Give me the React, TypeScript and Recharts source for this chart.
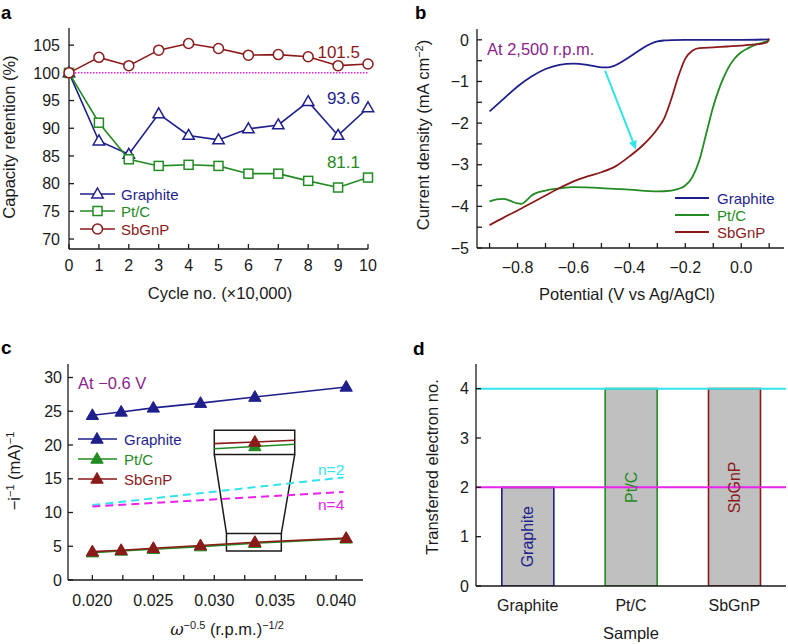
import React from "react";
import {
  LineChart,
  BarChart,
  Line,
  Bar,
  Cell,
  LabelList,
  XAxis,
  YAxis,
  ReferenceLine,
  ReferenceArea,
} from "recharts";

const FONT = '"Liberation Sans", Arial, Helvetica, sans-serif';
const INK = "#1a1a1a";
const NAVY = "#1f1f8c";
const GREEN = "#228b22";
const RED = "#8b1a1a";
const PURPLE = "#8b248b";
const MAGENTA = "#ea22ea";
const CYAN = "#33e3ea";
const BAR_FILL = "#c0c0c0";

// a: capacity retention vs cycle number
const cycles = [0, 1, 2, 3, 4, 5, 6, 7, 8, 9, 10];
const retTicks = [70, 75, 80, 85, 90, 95, 100, 105];
const retGraphite = [100, 87.7, 85.3, 92.6, 88.7, 87.9, 89.9, 90.6, 94.8, 88.7, 93.7];
const retPtC = [100, 91.0, 84.4, 83.2, 83.4, 83.2, 81.8, 81.8, 80.5, 79.3, 81.1];
const retSbGnP = [100, 102.8, 101.3, 104.1, 105.3, 104.4, 103.2, 103.3, 102.9, 101.3, 101.6];

// b: LSV curves at 2,500 r.p.m.
const potTicks = [-0.9, -0.8, -0.7, -0.6, -0.5, -0.4, -0.3, -0.2, -0.1, 0, 0.1];
const jTicks = [-5, -4.5, -4, -3.5, -3, -2.5, -2, -1.5, -1, -0.5, 0];
const potGraphite = [-0.9, -0.85, -0.8, -0.75, -0.7, -0.65, -0.6, -0.55, -0.5, -0.475, -0.45, -0.425, -0.4, -0.375, -0.35, -0.325, -0.3, -0.275, -0.25, -0.2, -0.1, 0, 0.1];
const jGraphite = [-1.72, -1.42, -1.12, -0.88, -0.7, -0.6, -0.57, -0.6, -0.66, -0.66, -0.61, -0.52, -0.41, -0.3, -0.19, -0.1, -0.04, -0.015, -0.005, 0, 0, 0, 0.01];
const potPtC = [-0.9, -0.875, -0.85, -0.825, -0.8, -0.785, -0.77, -0.75, -0.725, -0.7, -0.65, -0.6, -0.5, -0.4, -0.3, -0.25, -0.225, -0.2, -0.175, -0.15, -0.125, -0.1, -0.075, -0.05, -0.025, 0, 0.025, 0.05, 0.075, 0.1];
const jPtC = [-3.88, -3.83, -3.82, -3.87, -3.93, -3.94, -3.87, -3.74, -3.66, -3.62, -3.57, -3.54, -3.56, -3.6, -3.64, -3.62, -3.58, -3.5, -3.3, -2.9, -2.25, -1.6, -1.1, -0.72, -0.46, -0.3, -0.2, -0.12, -0.07, -0.02];
const potSbGnP = [-0.9, -0.85, -0.8, -0.75, -0.7, -0.65, -0.6, -0.55, -0.5, -0.45, -0.4, -0.35, -0.3, -0.275, -0.25, -0.225, -0.2, -0.175, -0.15, -0.1, -0.05, 0, 0.05, 0.09, 0.1];
const jSbGnP = [-4.45, -4.27, -4.1, -3.92, -3.74, -3.56, -3.4, -3.28, -3.18, -3.04, -2.8, -2.52, -2.14, -1.88, -1.42, -0.88, -0.45, -0.26, -0.2, -0.18, -0.16, -0.14, -0.11, -0.07, 0.03];
const arrowFrom = { x: -0.487, y: -0.74 };
const arrowTo = { x: -0.376, y: -2.64 };

// c: Koutecky-Levich plots at -0.6 V
const omega = [0.02, 0.02236, 0.025, 0.02887, 0.03333, 0.04082];
const omegaTicks = [0.02, 0.0225, 0.025, 0.0275, 0.03, 0.0325, 0.035, 0.0375, 0.04];
const invTicks = [0, 5, 10, 15, 20, 25, 30];
const klGraphite = [24.4, 24.9, 25.5, 26.2, 27.1, 28.6];
const klPtC = [4.05, 4.3, 4.55, 4.95, 5.45, 6.1];
const klSbGnP = [4.2, 4.4, 4.7, 5.1, 5.6, 6.2];
const nLineX = [0.02, 0.0406];
const n2Line = [11.1, 15.2];
const n4Line = [10.9, 13.05];
const insetBox = { x1: 0.03, x2: 0.0366, y1: 18.6, y2: 22.2 };
const zoomBox = { x1: 0.031, x2: 0.0355, y1: 4.3, y2: 6.9 };
const insetX = [0.03, 0.03333, 0.0366];
const insetSbGnP = [20.2, 20.45, 20.7];
const insetPtC = [19.45, 19.78, 20.1];

// d: transferred electron number
const samples = ["Graphite", "Pt/C", "SbGnP"];
const electrons = [2, 4, 4];
const sampleColors = [NAVY, GREEN, RED];

const tickFont = { fill: INK, fontSize: 16, fontFamily: FONT };
const axisStyle = { stroke: INK, strokeWidth: 1.3 };
const blank = () => "";

const tri = (cx: number, cy: number, r: number) =>
  `M${cx},${cy - r} L${cx + r * 0.95},${cy + r * 0.65} L${cx - r * 0.95},${cy + r * 0.65} Z`;

const fmtPot = (v: number) => {
  const k = Math.round(v * 10);
  if (k % 2 !== 0) return "";
  if (k === 0) return "0.0";
  return (v < 0 ? "\u2212" : "") + Math.abs(v).toFixed(1);
};
const fmtJ = (v: number) => {
  if (!Number.isInteger(v)) return "";
  return v === 0 ? "0" : "\u2212" + Math.abs(v);
};
const fmtOmega = (v: number) => {
  const m = v * 1000;
  return Math.abs(m - Math.round(m)) < 1e-6 && Math.round(m) % 5 === 0 ? v.toFixed(3) : "";
};

function PanelA() {
  const data = cycles.map((c, i) => ({ cycle: c, graphite: retGraphite[i], ptc: retPtC[i], sbgnp: retSbGnP[i] }));
  return (
    <LineChart width={394} height={322} data={data} margin={{ top: 28, right: 26, bottom: 0, left: 0 }}>
      <XAxis dataKey="cycle" type="number" domain={[0, 10]} ticks={cycles} interval={0} height={73} tickSize={-5} tickMargin={16} tick={tickFont} axisLine={axisStyle} tickLine={axisStyle} />
      <XAxis xAxisId="top" orientation="top" type="number" domain={[0, 10]} ticks={cycles} interval={0} height={0} tickSize={-5} tickFormatter={blank} axisLine={axisStyle} tickLine={axisStyle} />
      <YAxis type="number" domain={[68.2, 108.1]} ticks={retTicks} interval={0} width={69} tickSize={-5} tickMargin={14} tick={tickFont} axisLine={axisStyle} tickLine={axisStyle} />
      <YAxis yAxisId="right" orientation="right" type="number" domain={[68.2, 108.1]} ticks={retTicks} interval={0} width={0} tickSize={-5} tickFormatter={blank} axisLine={axisStyle} tickLine={axisStyle} />
      <ReferenceLine y={100} stroke={MAGENTA} strokeWidth={1.5} strokeDasharray="1.5 1.5" />
      <Line dataKey="graphite" type="linear" stroke={NAVY} strokeWidth={1.6} isAnimationActive={false}
        dot={(p: any) => <path key={`g${p.index}`} d={tri(p.cx, p.cy, 6)} fill="#fff" stroke={NAVY} strokeWidth={1.5} />} />
      <Line dataKey="ptc" type="linear" stroke={GREEN} strokeWidth={1.6} isAnimationActive={false}
        dot={(p: any) => <rect key={`p${p.index}`} x={p.cx - 4.5} y={p.cy - 4.5} width={9} height={9} fill="#fff" stroke={GREEN} strokeWidth={1.5} />} />
      <Line dataKey="sbgnp" type="linear" stroke={RED} strokeWidth={1.6} isAnimationActive={false}
        dot={(p: any) => <circle key={`s${p.index}`} cx={p.cx} cy={p.cy} r={5} fill="#fff" stroke={RED} strokeWidth={1.5} />} />
    </LineChart>
  );
}

function Arrow(p: any) {
  const { x1, y1, x2, y2 } = p;
  const dx = x2 - x1;
  const dy = y2 - y1;
  const len = Math.sqrt(dx * dx + dy * dy);
  const ux = dx / len;
  const uy = dy / len;
  const hl = 9;
  const hw = 4;
  const bx = x2 - ux * hl;
  const by = y2 - uy * hl;
  return (
    <g>
      <line x1={x1} y1={y1} x2={bx} y2={by} stroke={CYAN} strokeWidth={2} />
      <path d={`M${x2},${y2} L${bx - uy * hw},${by + ux * hw} L${bx + uy * hw},${by - ux * hw} Z`} fill={CYAN} />
    </g>
  );
}

function PanelB() {
  const g = potGraphite.map((x, i) => ({ x, y: jGraphite[i] }));
  const p = potPtC.map((x, i) => ({ x, y: jPtC[i] }));
  const s = potSbGnP.map((x, i) => ({ x, y: jSbGnP[i] }));
  return (
    <LineChart width={394} height={322} margin={{ top: 29, right: 4, bottom: 0, left: 0 }}>
      <XAxis dataKey="x" type="number" domain={[-0.945, 0.153]} allowDataOverflow ticks={potTicks} interval={0} height={74} tickSize={-5} tickMargin={19} tickFormatter={fmtPot} tick={tickFont} axisLine={axisStyle} tickLine={axisStyle} />
      <XAxis xAxisId="top" orientation="top" type="number" domain={[-0.945, 0.153]} allowDataOverflow ticks={potTicks} interval={0} height={0} tickSize={-5} tickFormatter={blank} axisLine={axisStyle} tickLine={axisStyle} />
      <YAxis type="number" domain={[-5, 0.26]} allowDataOverflow ticks={jTicks} interval={0} width={83} tickSize={-5} tickMargin={13} tickFormatter={fmtJ} tick={tickFont} axisLine={axisStyle} tickLine={axisStyle} />
      <YAxis yAxisId="right" orientation="right" type="number" domain={[-5, 0.26]} allowDataOverflow ticks={jTicks} interval={0} width={0} tickSize={-5} tickFormatter={blank} axisLine={axisStyle} tickLine={axisStyle} />
      <Line data={g} dataKey="y" type="monotone" stroke={NAVY} strokeWidth={1.8} dot={false} isAnimationActive={false} />
      <Line data={p} dataKey="y" type="monotone" stroke={GREEN} strokeWidth={1.8} dot={false} isAnimationActive={false} />
      <Line data={s} dataKey="y" type="monotone" stroke={RED} strokeWidth={1.8} dot={false} isAnimationActive={false} />
      <ReferenceLine segment={[arrowFrom, arrowTo]} stroke={CYAN} strokeWidth={2} shape={(pp: any) => <Arrow {...pp} />} />
    </LineChart>
  );
}

const filledTri = (color: string, prefix: string, only?: number) => (p: any) =>
  only !== undefined && p.index !== only ? (
    <g key={`${prefix}${p.index}`} />
  ) : (
    <path key={`${prefix}${p.index}`} d={tri(p.cx, p.cy, 6.5)} fill={color} stroke={color} strokeWidth={1} />
  );

function PanelC() {
  const g = omega.map((x, i) => ({ x, y: klGraphite[i] }));
  const p = omega.map((x, i) => ({ x, y: klPtC[i] }));
  const s = omega.map((x, i) => ({ x, y: klSbGnP[i] }));
  const n2 = nLineX.map((x, i) => ({ x, y: n2Line[i] }));
  const n4 = nLineX.map((x, i) => ({ x, y: n4Line[i] }));
  const ip = insetX.map((x, i) => ({ x, y: insetPtC[i] }));
  const is = insetX.map((x, i) => ({ x, y: insetSbGnP[i] }));
  return (
    <LineChart width={394} height={322} margin={{ top: 42, right: 31, bottom: 0, left: 0 }}>
      <XAxis dataKey="x" type="number" domain={[0.018, 0.0422]} allowDataOverflow ticks={omegaTicks} interval={0} height={64} tickSize={-5} tickMargin={20} tickFormatter={fmtOmega} tick={tickFont} axisLine={axisStyle} tickLine={axisStyle} />
      <XAxis xAxisId="top" orientation="top" type="number" domain={[0.018, 0.0422]} allowDataOverflow ticks={omegaTicks} interval={0} height={0} tickSize={-5} tickFormatter={blank} axisLine={axisStyle} tickLine={axisStyle} />
      <YAxis type="number" domain={[0, 32]} allowDataOverflow ticks={invTicks} interval={0} width={68} tickSize={-5} tickMargin={11} tick={tickFont} axisLine={axisStyle} tickLine={axisStyle} />
      <YAxis yAxisId="right" orientation="right" type="number" domain={[0, 32]} allowDataOverflow ticks={invTicks} interval={0} width={0} tickSize={-5} tickFormatter={blank} axisLine={axisStyle} tickLine={axisStyle} />
      <ReferenceArea x1={insetBox.x1} x2={insetBox.x2} y1={insetBox.y1} y2={insetBox.y2} fill="none" stroke={INK} strokeWidth={1.5} />
      <ReferenceArea x1={zoomBox.x1} x2={zoomBox.x2} y1={zoomBox.y1} y2={zoomBox.y2} fill="none" stroke={INK} strokeWidth={1.5} />
      <ReferenceLine segment={[{ x: insetBox.x1, y: insetBox.y1 }, { x: zoomBox.x1, y: zoomBox.y2 }]} stroke={INK} strokeWidth={1.5} />
      <ReferenceLine segment={[{ x: insetBox.x2, y: insetBox.y1 }, { x: zoomBox.x2, y: zoomBox.y2 }]} stroke={INK} strokeWidth={1.5} />
      <Line data={n2} dataKey="y" type="linear" stroke={CYAN} strokeWidth={2} strokeDasharray="8 5" dot={false} isAnimationActive={false} />
      <Line data={n4} dataKey="y" type="linear" stroke={MAGENTA} strokeWidth={2} strokeDasharray="8 5" dot={false} isAnimationActive={false} />
      <Line data={ip} dataKey="y" type="linear" stroke={GREEN} strokeWidth={1.6} dot={filledTri(GREEN, "ip", 1)} isAnimationActive={false} />
      <Line data={is} dataKey="y" type="linear" stroke={RED} strokeWidth={1.6} dot={filledTri(RED, "is", 1)} isAnimationActive={false} />
      <Line data={g} dataKey="y" type="linear" stroke={NAVY} strokeWidth={1.6} dot={filledTri(NAVY, "g")} isAnimationActive={false} />
      <Line data={p} dataKey="y" type="linear" stroke={GREEN} strokeWidth={1.6} dot={filledTri(GREEN, "p")} isAnimationActive={false} />
      <Line data={s} dataKey="y" type="linear" stroke={RED} strokeWidth={1.6} dot={filledTri(RED, "s")} isAnimationActive={false} />
    </LineChart>
  );
}

function BarName(props: any) {
  const { x, y, width, height, value, index } = props;
  const cx = x + width / 2;
  const cy = y + height / 2;
  return (
    <text x={cx} y={cy} transform={`rotate(-90, ${cx}, ${cy})`} textAnchor="middle" dominantBaseline="central"
      fill={sampleColors[index] || INK} fontSize={16} fontFamily={FONT}>
      {value}
    </text>
  );
}

function PanelD() {
  const data = samples.map((name, i) => ({ name, n: electrons[i] }));
  return (
    <BarChart width={394} height={322} data={data} barCategoryGap="25%" margin={{ top: 42, right: 2, bottom: 0, left: 0 }}>
      <XAxis dataKey="name" height={58} tickSize={0} tickLine={false} tickMargin={14} tick={tickFont} axisLine={axisStyle} />
      <XAxis xAxisId="top" orientation="top" dataKey="name" height={0} tick={false} tickLine={false} axisLine={axisStyle} />
      <YAxis type="number" domain={[0, 4.5]} allowDataOverflow ticks={[0, 1, 2, 3, 4]} interval={0} width={82} tickSize={-5} tickMargin={12} tick={tickFont} axisLine={axisStyle} tickLine={axisStyle} />
      <YAxis yAxisId="right" orientation="right" type="number" domain={[0, 4.5]} allowDataOverflow ticks={[0, 1, 2, 3, 4]} interval={0} width={0} tickSize={-5} tickFormatter={blank} axisLine={axisStyle} tickLine={axisStyle} />
      <Bar dataKey="n" fill={BAR_FILL} strokeWidth={1.6} isAnimationActive={false}>
        {data.map((d, i) => (
          <Cell key={d.name} stroke={sampleColors[i]} />
        ))}
        <LabelList dataKey="name" content={(pp: any) => <BarName {...pp} />} />
      </Bar>
      <ReferenceLine y={4} stroke={CYAN} strokeWidth={2} />
      <ReferenceLine y={2} stroke={MAGENTA} strokeWidth={2} />
    </BarChart>
  );
}

const Sup = ({ children }: { children: React.ReactNode }) => (
  <tspan dy={-6} fontSize={11}>{children}</tspan>
);

function Overlay() {
  const legendText = { fontSize: 15, fontFamily: FONT };
  return (
    <svg width={788} height={644} style={{ position: "absolute", left: 0, top: 0, pointerEvents: "none" }} fontFamily={FONT}>
      {/* panel letters */}
      <text x={1} y={19} fontSize={18.5} fontWeight="bold" fill="#000">a</text>
      <text x={415} y={19} fontSize={18.5} fontWeight="bold" fill="#000">b</text>
      <text x={1} y={354} fontSize={19} fontWeight="bold" fill="#000">c</text>
      <text x={413} y={355} fontSize={19} fontWeight="bold" fill="#000">d</text>

      {/* a */}
      <text transform="translate(15,137) rotate(-90)" textAnchor="middle" fontSize={16.5} fill={INK}>Capacity retention (%)</text>
      <text x={220} y={299} textAnchor="middle" fontSize={16.5} fill={INK}>Cycle no. (×10,000)</text>
      <text x={360} y={58} textAnchor="end" fontSize={17} fill={RED}>101.5</text>
      <text x={360} y={104} textAnchor="end" fontSize={17} fill={NAVY}>93.6</text>
      <text x={360} y={168} textAnchor="end" fontSize={17} fill={GREEN}>81.1</text>
      <line x1={80} y1={194} x2={115} y2={194} stroke={NAVY} strokeWidth={1.6} />
      <path d={tri(97.5, 194, 6)} fill="#fff" stroke={NAVY} strokeWidth={1.5} />
      <text x={121} y={199.5} fill={NAVY} {...legendText}>Graphite</text>
      <line x1={80} y1={211} x2={115} y2={211} stroke={GREEN} strokeWidth={1.6} />
      <rect x={93} y={206.5} width={9} height={9} fill="#fff" stroke={GREEN} strokeWidth={1.5} />
      <text x={121} y={216.5} fill={GREEN} {...legendText}>Pt/C</text>
      <line x1={80} y1={229} x2={115} y2={229} stroke={RED} strokeWidth={1.6} />
      <circle cx={97.5} cy={229} r={5} fill="#fff" stroke={RED} strokeWidth={1.5} />
      <text x={121} y={234.5} fill={RED} {...legendText}>SbGnP</text>

      {/* b */}
      <text transform="translate(429,135) rotate(-90)" textAnchor="middle" fontSize={16.5} fill={INK}>
        Current density (mA cm<Sup>−2</Sup><tspan dy={6}>)</tspan>
      </text>
      <text x={627} y={300} textAnchor="middle" fontSize={16.5} fill={INK}>Potential (V vs Ag/AgCl)</text>
      <text x={487} y={55} fontSize={16.5} fill={PURPLE}>At 2,500 r.p.m.</text>
      <line x1={675} y1={198} x2={709} y2={198} stroke={NAVY} strokeWidth={1.8} />
      <text x={717} y={203.5} fill={NAVY} {...legendText}>Graphite</text>
      <line x1={675} y1={215} x2={709} y2={215} stroke={GREEN} strokeWidth={1.8} />
      <text x={717} y={220.5} fill={GREEN} {...legendText}>Pt/C</text>
      <line x1={675} y1={232} x2={709} y2={232} stroke={RED} strokeWidth={1.8} />
      <text x={717} y={237.5} fill={RED} {...legendText}>SbGnP</text>

      {/* c */}
      <text transform="translate(20,471) rotate(-90)" textAnchor="middle" fontSize={16.5} fill={INK}>
        −i<Sup>−1</Sup><tspan dy={6}> (mA)</tspan><Sup>−1</Sup>
      </text>
      <text x={227} y={635} textAnchor="middle" fontSize={16.5} fill={INK}>
        <tspan fontFamily='"DejaVu Serif", serif' fontStyle="italic">ω</tspan><Sup>−0.5</Sup><tspan dy={6}> (r.p.m.)</tspan><Sup>−1/2</Sup>
      </text>
      <text x={78} y={389} fontSize={16.5} fill={PURPLE}>At −0.6 V</text>
      <text x={318} y={475} fontSize={15.5} fill={CYAN}>n=2</text>
      <text x={318} y={510} fontSize={15.5} fill={MAGENTA}>n=4</text>
      <line x1={78} y1={439} x2={117} y2={439} stroke={NAVY} strokeWidth={1.6} />
      <path d={tri(97, 439, 6.5)} fill={NAVY} stroke={NAVY} />
      <text x={124} y={444.5} fill={NAVY} {...legendText}>Graphite</text>
      <line x1={78} y1={459} x2={117} y2={459} stroke={GREEN} strokeWidth={1.6} />
      <path d={tri(97, 459, 6.5)} fill={GREEN} stroke={GREEN} />
      <text x={124} y={464.5} fill={GREEN} {...legendText}>Pt/C</text>
      <line x1={78} y1={479} x2={117} y2={479} stroke={RED} strokeWidth={1.6} />
      <path d={tri(97, 479, 6.5)} fill={RED} stroke={RED} />
      <text x={124} y={484.5} fill={RED} {...legendText}>SbGnP</text>

      {/* d */}
      <text transform="translate(438,467) rotate(-90)" textAnchor="middle" fontSize={16.5} fill={INK}>Transferred electron no.</text>
      <text x={631} y={639} textAnchor="middle" fontSize={16.5} fill={INK}>Sample</text>
    </svg>
  );
}

export default function App() {
  return (
    <div style={{ position: "absolute", left: 0, top: 0, width: 788, height: 644, background: "#fff", overflow: "hidden", fontFamily: FONT }}>
      <div style={{ position: "absolute", left: 0, top: 0 }}><PanelA /></div>
      <div style={{ position: "absolute", left: 394, top: 0 }}><PanelB /></div>
      <div style={{ position: "absolute", left: 0, top: 322 }}><PanelC /></div>
      <div style={{ position: "absolute", left: 394, top: 322 }}><PanelD /></div>
      <Overlay />
    </div>
  );
}
